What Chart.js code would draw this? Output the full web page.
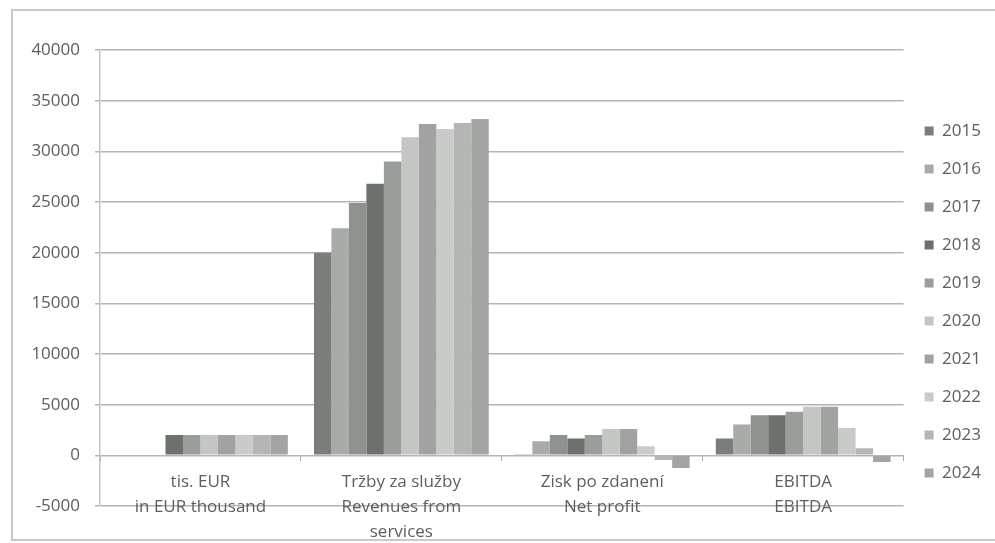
<!DOCTYPE html>
<html>
<head>
<meta charset="utf-8">
<script src="https://cdn.jsdelivr.net/npm/chart.js@4.4.0/dist/chart.umd.min.js"></script>
<style>
  html, body { margin: 0; padding: 0; background: #fff; }
  #wrap { width: 995px; height: 543px; position: relative; }
</style>
</head>
<body>
<div id="wrap"><canvas id="chart"></canvas></div>
<script>
// Categories (two-language labels, one array entry per line)
const categories = [
    ['tis. EUR', 'in EUR thousand'],
    ['Tržby za služby', 'Revenues from', 'services'],
    ['Zisk po zdanení', 'Net profit'],
    ['EBITDA', 'EBITDA']
];

const years = ['2015', '2016', '2017', '2018', '2019', '2020', '2021', '2022', '2023', '2024'];

// Values per year, in category order
const values2015 = [null, 20000, 100, 1650];
const values2016 = [null, 22400, 1400, 3050];
const values2017 = [null, 24900, 2000, 3950];
const values2018 = [2000, 26800, 1650, 3950];
const values2019 = [2000, 29000, 2000, 4300];
const values2020 = [2000, 31400, 2600, 4800];
const values2021 = [2000, 32700, 2600, 4800];
const values2022 = [2000, 32200, 900, 2700];
const values2023 = [2000, 32800, -450, 700];
const values2024 = [2000, 33200, -1250, -650];

const yTicks = [-5000, 0, 5000, 10000, 15000, 20000, 25000, 30000, 35000, 40000];

// Grey shades as they come out of the scan
const YEAR_COLORS = ['#7a7e7a', '#a8aba8', '#8e928e', '#6c716c', '#9a9e9a',
                     '#c4c6c4', '#a0a3a0', '#c9cbc9', '#b4b6b4', '#a2a5a2'];

const seriesValues = [values2015, values2016, values2017, values2018, values2019,
                      values2020, values2021, values2022, values2023, values2024];

const TEXT_COLOR = '#5e5e5e';
const FONT = '"Open Sans", "Liberation Sans", sans-serif';

// Light frame around the whole chart like the scanned figure
const framePlugin = {
    id: 'frame',
    beforeDraw(chart) {
        const ctx = chart.ctx;
        ctx.save();
        ctx.fillStyle = '#fff';
        ctx.fillRect(0, 0, chart.width, chart.height);
        ctx.strokeStyle = '#c8c8c8';
        ctx.lineWidth = 2;
        ctx.strokeRect(12, 10, chart.width + 10, chart.height - 13);
        ctx.restore();
    }
};

// Legend sits a bit lower than centred in the original
const legendShift = {
    id: 'legendShift',
    afterLayout(chart) {
        const lg = chart.legend;
        if (lg) {
            lg.top += 24;
            lg.bottom += 24;
        }
    }
};

const datasets = years.map((year, i) => ({
    label: year,
    data: seriesValues[i],
    backgroundColor: YEAR_COLORS[i],
    borderWidth: 0,
    barPercentage: 1.0,
    categoryPercentage: 0.87
}));

new Chart(document.getElementById('chart').getContext('2d'), {
    type: 'bar',
    data: { labels: categories, datasets },
    plugins: [framePlugin, legendShift],
    options: {
        responsive: true,
        maintainAspectRatio: false,
        animation: false,
        layout: {
            padding: { top: 50, bottom: 37, left: 14, right: 4 }
        },
        plugins: {
            legend: {
                position: 'right',
                labels: {
                    color: TEXT_COLOR,
                    font: { family: FONT, size: 17 },
                    boxWidth: 9,
                    boxHeight: 9,
                    padding: 21
                }
            },
            tooltip: { enabled: false }
        },
        scales: {
            x: {
                position: { y: 0 },
                grid: {
                    offset: true,
                    drawOnChartArea: false,
                    color: '#aaa',
                    tickLength: 6
                },
                border: { display: false },
                ticks: {
                    color: TEXT_COLOR,
                    font: { family: FONT, size: 17, lineHeight: 1.47 },
                    maxRotation: 0,
                    padding: 8
                }
            },
            y: {
                min: -5000,
                max: 40000,
                afterBuildTicks(scale) {
                    scale.ticks = yTicks.map(v => ({ value: v }));
                },
                afterFit(scale) {
                    scale.width = 86;
                },
                grid: {
                    color: '#b4b4b4',
                    lineWidth: 1.5,
                    tickLength: 5
                },
                border: { display: true, color: '#c4c4c4', width: 1.5 },
                ticks: {
                    color: TEXT_COLOR,
                    font: { family: FONT, size: 17 },
                    padding: 15,
                    callback: v => String(v)
                }
            }
        }
    }
});
</script>
</body>
</html>
